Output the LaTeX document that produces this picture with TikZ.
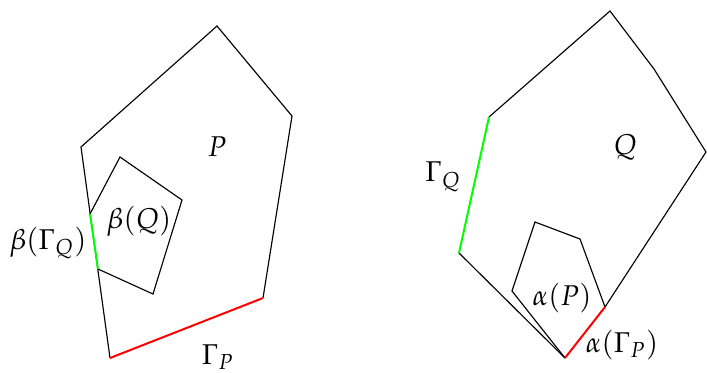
\documentclass[tikz,border=0pt]{standalone}
\usepackage{mathpazo}
\begin{document}
\begin{tikzpicture}[x=0.35pt,y=-0.35pt,
  edge/.style={black,line width=0.4pt,line join=miter},
  gedge/.style={green,line width=0.7pt},
  redge/.style={red,line width=0.7pt},
  lbl/.style={inner sep=0pt,font=\normalsize}]
\useasboundingbox (0,0) rectangle (707,372);
% ---- left: P and beta(Q)
\coordinate (p1) at (81,147);
\coordinate (p2) at (217,26);
\coordinate (p3) at (292,116);
\coordinate (p4) at (263,298);
\coordinate (p5) at (110,358);
\coordinate (b1) at (90,214);
\coordinate (b2) at (120,157);
\coordinate (b3) at (182,200);
\coordinate (b4) at (153,294);
\coordinate (b5) at (98,269);
\draw[edge] (p4) -- (p3) -- (p2) -- (p1) -- (p5);
\draw[edge] (b1) -- (b2) -- (b3) -- (b4) -- (b5);
\draw[redge] (p4) -- (p5);
\draw[gedge] (b1) -- (b5);
\node[lbl] (lP) at (217,147) {$P$};
\node[lbl] (lbQ) at (139,221) {$\beta(Q)$};
\node[lbl] (lbG) at (48,243) {$\beta(\Gamma_Q)$};
\node[lbl] (lGP) at (218,357) {$\Gamma_P$};
% ---- right: Q and alpha(P)
\coordinate (q1) at (489,117);
\coordinate (q2) at (610,11);
\coordinate (q3) at (654,69);
\coordinate (q4) at (706,152);
\coordinate (q5) at (605,307);
\coordinate (q6) at (565,358);
\coordinate (q7) at (459,253);
\coordinate (a2) at (512,291);
\coordinate (a3) at (535,222);
\coordinate (a4) at (580,239);
\draw[edge] (q1) -- (q2) -- (q3) -- (q4) -- (q5);
\draw[edge] (q6) -- (q7);
\draw[edge] (q6) -- (a2) -- (a3) -- (a4) -- (q5);
\draw[redge] (q5) -- (q6);
\draw[gedge] (q7) -- (q1);
\node[lbl] (lQ) at (625,147) {$Q$};
\node[lbl] (lGQ) at (443,177) {$\Gamma_Q$};
\node[lbl] (laP) at (562,298) {$\alpha(P)$};
\node[lbl] (laG) at (622,345) {$\alpha(\Gamma_P)$};
\end{tikzpicture}
\end{document}
